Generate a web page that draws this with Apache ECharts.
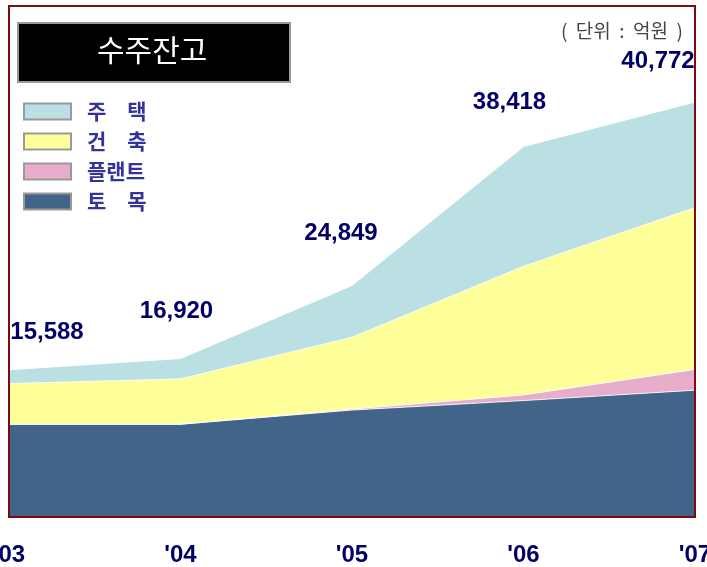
<!DOCTYPE html>
<html>
<head>
<meta charset="utf-8">
<script src="https://cdn.jsdelivr.net/npm/echarts@6/dist/echarts.min.js"></script>
<style>
html, body { margin: 0; padding: 0; background: #fff; }
#main { width: 707px; height: 567px; }
</style>
</head>
<body>
<div id="main"></div>
<script>
// 수주잔고 (단위: 억원)
var years = ["'03", "'04", "'05", "'06", "'07"];
var civil = [9800, 9800, 11300, 12300, 13400];     // 토목
var plant = [0, 0, 100, 600, 2200];                // 플랜트
var building = [4300, 4800, 7600, 13600, 17100];   // 건축
var housing = [1400, 2100, 5400, 12600, 11100];    // 주택
var totals = ['15,588', '16,920', '24,849', '38,418', '40,772'];
// label nudges for the totals, px
var totalOffsets = [[38, -20], [-4, -30], [-11, -35], [-14, -27], [-37, -24]];

var latin = 'Liberation Sans, Arial, Noto Sans CJK KR, sans-serif';
var hangul = 'Noto Sans CJK KR, sans-serif';

var myChart = echarts.init(document.getElementById('main'));

function areaSeries(name, data, color) {
    return {
        name: name,
        type: 'line',
        stack: 'total',
        symbol: 'none',
        data: data,
        lineStyle: { width: 1, color: '#ffffff', opacity: 0.8 },
        areaStyle: { color: color, opacity: 1 },
        itemStyle: { color: color }
    };
}

var topData = housing.map(function (v, i) {
    return { value: v, label: { offset: totalOffsets[i] } };
});

var option = {
    animation: false,
    backgroundColor: '#ffffff',
    grid: {
        left: 9,
        right: 12,
        top: 6,
        bottom: 50,
        containLabel: false,
        outerBoundsMode: 'none',
        show: true,
        z: 5,
        backgroundColor: 'transparent',
        borderColor: '#7b0c0c',
        borderWidth: 2
    },
    legend: {
        orient: 'vertical',
        left: 23,
        top: 101,
        padding: 0,
        icon: 'rect',
        itemWidth: 47,
        itemHeight: 16,
        itemGap: 9,
        selectedMode: false,
        data: ['주택', '건축', '플랜트', '토목'],
        formatter: function (name) {
            return name.length === 2 ? name.charAt(0) + '\u3000' + name.charAt(1) : name;
        },
        itemStyle: { borderColor: '#999999', borderWidth: 2 },
        textStyle: {
            fontFamily: hangul,
            fontSize: 21,
            lineHeight: 21,
            fontWeight: 'bold',
            color: '#333399',
            padding: [0, 0, 0, 11]
        }
    },
    graphic: [
        {
            type: 'rect',
            left: 17,
            top: 22,
            shape: { width: 272, height: 59 },
            style: { fill: '#000000', stroke: '#999999', lineWidth: 2 }
        },
        {
            type: 'text',
            left: 97,
            top: 35,
            style: {
                text: '수주잔고',
                fill: '#ffffff',
                font: '30px ' + hangul
            }
        },
        {
            type: 'text',
            right: 24,
            top: 21,
            style: {
                text: '(  단위  :  억원  )',
                fill: '#444444',
                font: '19px ' + hangul
            }
        }
    ],
    xAxis: {
        type: 'category',
        boundaryGap: false,
        data: years,
        axisLine: { show: false },
        axisTick: { show: false },
        splitLine: { show: false },
        axisLabel: {
            margin: 26,
            fontFamily: latin,
            fontSize: 24,
            fontWeight: 'bold',
            color: '#000066'
        }
    },
    yAxis: {
        type: 'value',
        min: 0,
        max: 54000,
        show: false,
        splitLine: { show: false }
    },
    series: [
        areaSeries('토목', civil, '#436489'),
        areaSeries('플랜트', plant, '#e8adca'),
        areaSeries('건축', building, '#ffff99'),
        Object.assign(areaSeries('주택', topData, '#bbe0e3'), {
            symbol: 'circle',
            symbolSize: 1,
            showSymbol: true,
            lineStyle: { width: 0 },
            label: {
                show: true,
                position: 'top',
                fontFamily: latin,
                fontSize: 24,
                fontWeight: 'bold',
                color: '#000066',
                formatter: function (p) { return totals[p.dataIndex]; }
            }
        })
    ]
};
if (option && typeof option === "object") {
    myChart.setOption(option, true);
}
</script>
</body>
</html>
